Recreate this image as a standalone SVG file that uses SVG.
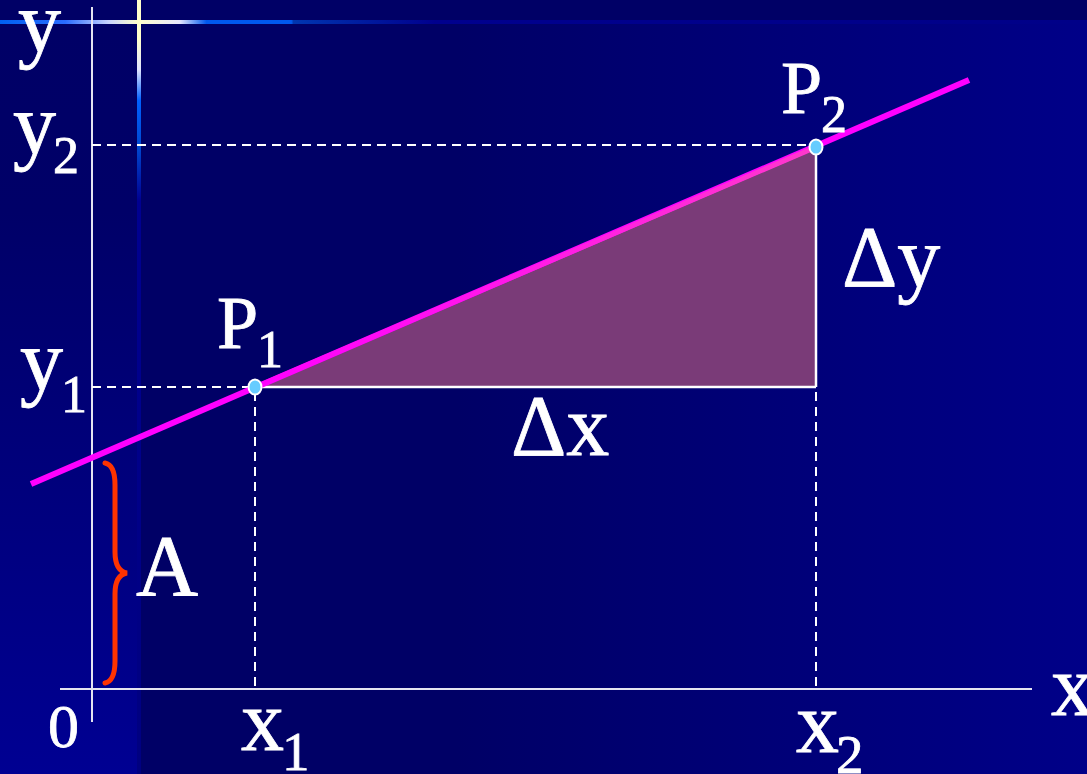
<svg xmlns="http://www.w3.org/2000/svg" width="1087" height="774" viewBox="0 0 1087 774">
<defs>
<style>
.t{font-family:'Liberation Serif','Times New Roman',serif;fill:#ffffff;stroke:#ffffff;stroke-width:0.8}
.m{font-size:86px}
.p{font-size:74px}
.s{font-size:52px}
.dash{stroke:#ffffff;stroke-width:2;stroke-dasharray:9 6;fill:none}
.axis{stroke:#e4e4f0;stroke-width:2;fill:none}
.edge{stroke:#ffffff;stroke-width:2.5;fill:none}
.pt{fill:#66ccff;stroke:#ffffff;stroke-width:2}
</style>
<linearGradient id="bgH" x1="0" y1="0" x2="1087" y2="0" gradientUnits="userSpaceOnUse">
<stop offset="0" stop-color="#000066"/>
<stop offset="0.42" stop-color="#000066"/>
<stop offset="1" stop-color="#000088"/>
</linearGradient>
<linearGradient id="bgL" x1="0" y1="24" x2="0" y2="774" gradientUnits="userSpaceOnUse">
<stop offset="0" stop-color="#000066"/>
<stop offset="0.25" stop-color="#000068"/>
<stop offset="1" stop-color="#000092"/>
</linearGradient>
<linearGradient id="glowH" x1="0" y1="0" x2="1087" y2="0" gradientUnits="userSpaceOnUse">
<stop offset="0" stop-color="#0060f0"/>
<stop offset="0.06" stop-color="#2a6cff"/>
<stop offset="0.1" stop-color="#c8d4ff"/>
<stop offset="0.127" stop-color="#ffffcc"/>
<stop offset="0.165" stop-color="#e8e8ff"/>
<stop offset="0.19" stop-color="#0058ee"/>
<stop offset="0.268" stop-color="#0058ee"/>
<stop offset="0.27" stop-color="#0036b0"/>
<stop offset="0.4" stop-color="#00008e"/>
<stop offset="1" stop-color="#000088"/>
</linearGradient>
<linearGradient id="glowV" x1="0" y1="0" x2="0" y2="774" gradientUnits="userSpaceOnUse">
<stop offset="0" stop-color="#ffffcc"/>
<stop offset="0.05" stop-color="#ffffcc"/>
<stop offset="0.09" stop-color="#e0e4ff"/>
<stop offset="0.13" stop-color="#0060ff"/>
<stop offset="0.19" stop-color="#0048d0"/>
<stop offset="0.26" stop-color="#000090"/>
<stop offset="1" stop-color="#000080"/>
</linearGradient>
<linearGradient id="hyp" x1="255" y1="0" x2="816" y2="0" gradientUnits="userSpaceOnUse">
<stop offset="0" stop-color="#ff00ff"/>
<stop offset="1" stop-color="#ff38cc"/>
</linearGradient>
</defs>

<g id="background">
<rect x="0" y="0" width="1087" height="774" fill="url(#bgH)"/>
<rect x="0" y="0" width="1087" height="21" fill="#000066"/>
<rect x="0" y="24" width="138" height="750" fill="url(#bgL)"/>
<rect x="0" y="20" width="1087" height="4" fill="url(#glowH)"/>
<rect x="137" y="0" width="4" height="774" fill="url(#glowV)"/>
</g>

<g id="triangle">
<polygon points="255,387 816,147 816,387" fill="#7a3b78"/>
</g>

<g id="connectors">
<line class="axis" x1="92" y1="7" x2="92" y2="722"/>
<line class="axis" x1="60" y1="689" x2="1032" y2="689"/>
<line class="dash" x1="92" y1="145" x2="812" y2="145"/>
<line class="dash" x1="92" y1="387" x2="250" y2="387"/>
<line class="dash" x1="255" y1="392" x2="255" y2="689"/>
<line class="dash" x1="816" y1="392" x2="816" y2="689"/>
<line class="edge" x1="255" y1="387" x2="816" y2="387"/>
<line class="edge" x1="816" y1="147" x2="816" y2="387"/>
<line id="line" x1="31" y1="484" x2="969" y2="80" stroke="#ff00ff" stroke-width="6"/>
<line id="hypotenuse" x1="258" y1="386" x2="814" y2="148" stroke="url(#hyp)" stroke-width="5"/>
<path id="brace" d="M105,463 Q115,465 115,485 L115,552 Q115,571 127,573 Q115,575 115,594 L115,661 Q115,681 105,683" fill="none" stroke="#ff3300" stroke-width="5" stroke-linecap="round"/>
</g>

<g id="node-P1">
<ellipse class="pt" cx="255" cy="387" rx="6.5" ry="7.5"/>
<text class="t p" x="217" y="348">P</text>
<text class="t s" x="257" y="367">1</text>
</g>

<g id="node-P2">
<ellipse class="pt" cx="816" cy="147" rx="6.5" ry="7.5"/>
<text class="t p" x="781" y="113">P</text>
<text class="t s" x="821" y="132">2</text>
</g>

<g id="labels">
<text class="t m" x="18" y="51">y</text>
<text class="t m" x="13" y="153">y</text>
<text class="t s" x="53" y="173">2</text>
<text class="t m" x="20" y="389">y</text>
<text class="t s" x="61" y="412">1</text>
<text class="t m" x="136" y="595">A</text>
<text class="t" style="font-size:62px" x="48" y="747">0</text>
<text class="t m" x="241" y="750">x</text>
<text class="t" style="font-size:55px" x="282" y="770">1</text>
<text class="t m" x="796" y="752">x</text>
<text class="t" style="font-size:55px" x="836" y="773">2</text>
<text class="t m" x="1051" y="715">x</text>
<text class="t m" x="511" y="455">Δx</text>
<text class="t m" x="842" y="286">Δy</text>
</g>
</svg>
